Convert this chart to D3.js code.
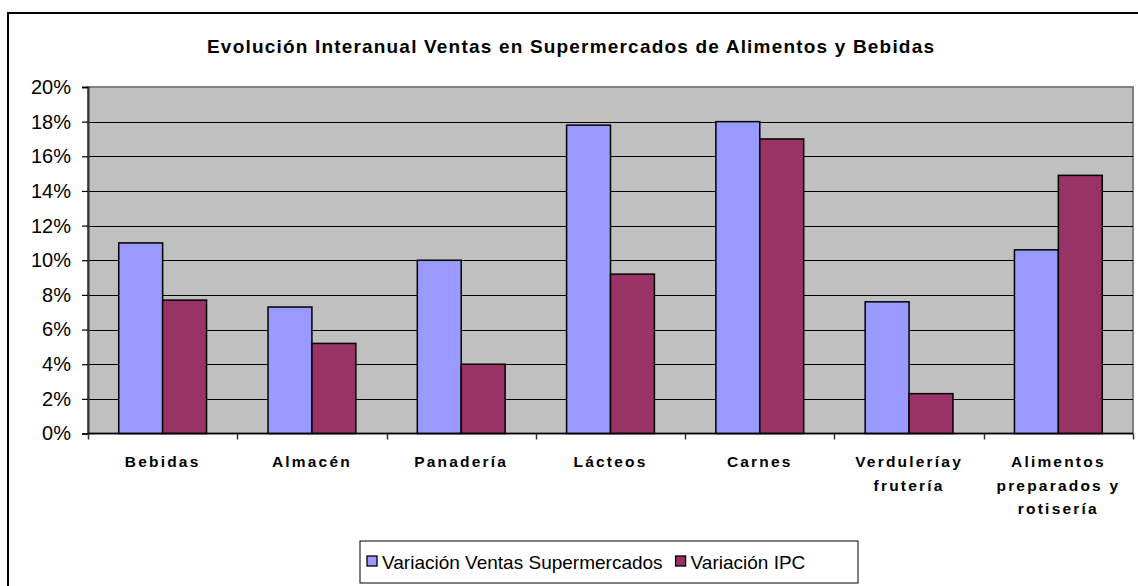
<!DOCTYPE html>
<html>
<head>
<meta charset="utf-8">
<script src="https://cdn.jsdelivr.net/npm/d3@7"></script>
<style>
  body { margin: 0; background: #fff; }
  svg text { font-family: Arial, "Liberation Sans", sans-serif; fill: #000; }
</style>
</head>
<body>
<svg id="chart" width="1138" height="586"></svg>
<script>
// data
const categories = [
    ["Bebidas"],
    ["Almacén"],
    ["Panadería"],
    ["Lácteos"],
    ["Carnes"],
    ["Verduleríay", "frutería"],
    ["Alimentos", "preparados y", "rotisería"]
];
const seriesNames = ["Variación Ventas Supermercados", "Variación IPC"];
const ventas = [0.110, 0.073, 0.100, 0.178, 0.180, 0.076, 0.106];
const ipc = [0.077, 0.052, 0.040, 0.092, 0.170, 0.023, 0.149];
const yTicks = [0, 0.02, 0.04, 0.06, 0.08, 0.10, 0.12, 0.14, 0.16, 0.18, 0.20];
const colors = ["#9999FF", "#993366"];
const title = "Evolución Interanual Ventas en Supermercados de Alimentos y Bebidas";

const svg = d3.select("#chart");

// outer chart border
svg.append("rect")
    .attr("x", 8).attr("y", 13)
    .attr("width", 1150).attr("height", 600)
    .attr("fill", "#fff")
    .attr("stroke", "#000")
    .attr("stroke-width", 2);

svg.append("text")
    .attr("x", 570.5).attr("y", 53)
    .attr("text-anchor", "middle")
    .attr("font-size", "19px")
    .attr("font-weight", "bold")
    .attr("textLength", 727)
    .attr("lengthAdjust", "spacing")
    .text(title);

let plot = { left: 88, right: 1133, top: 87, bottom: 433.5 };

let y = d3.scaleLinear().domain([0, 0.2]).range([plot.bottom, plot.top]);
let x = d3.scaleBand().domain(d3.range(categories.length)).range([plot.left, plot.right]);
let xs = d3.scaleBand().domain([0, 1]).range([0, x.bandwidth()]).paddingOuter(0.70);

// plot area background
svg.append("rect")
    .attr("x", plot.left).attr("y", plot.top)
    .attr("width", plot.right - plot.left).attr("height", plot.bottom - plot.top)
    .attr("fill", "#C0C0C0")
    .attr("stroke", "#808080")
    .attr("stroke-width", 2);

// gridlines
svg.append("g")
    .selectAll("line")
    .data(yTicks.filter(d => d > 0 && d < 0.2))
    .enter()
    .append("line")
    .attr("x1", plot.left).attr("x2", plot.right)
    .attr("y1", d => Math.round(y(d)) + 0.5).attr("y2", d => Math.round(y(d)) + 0.5)
    .attr("stroke", "#000")
    .attr("stroke-width", 1.2);

// bars
let groups = svg.append("g")
    .selectAll("g")
    .data(categories.map((c, i) => [ventas[i], ipc[i]]))
    .enter()
    .append("g")
    .attr("transform", (d, i) => "translate(" + x(i) + ",0)");

groups.selectAll("rect")
    .data(d => d)
    .enter()
    .append("rect")
    .attr("x", (d, j) => xs(j))
    .attr("width", xs.bandwidth())
    .attr("y", d => y(d))
    .attr("height", d => y(0) - y(d))
    .attr("fill", (d, j) => colors[j])
    .attr("stroke", "#000")
    .attr("stroke-width", 1.5);

// y axis
let yAxis = svg.append("g")
    .attr("transform", "translate(" + plot.left + ",0)")
    .call(d3.axisLeft(y).tickValues(yTicks).tickFormat(d3.format(".0%")).tickSize(6).tickPadding(11));
yAxis.select(".domain").attr("stroke", "#333").attr("stroke-width", 2);
yAxis.selectAll(".tick line").attr("stroke", "#000").attr("stroke-width", 1.2);
yAxis.selectAll(".tick text")
    .attr("font-size", "20px")
    .attr("font-family", "Arial, 'Liberation Sans', sans-serif")
    .attr("fill", "#000");

// x axis line + category ticks
svg.append("line")
    .attr("x1", plot.left).attr("x2", plot.right)
    .attr("y1", plot.bottom).attr("y2", plot.bottom)
    .attr("stroke", "#000").attr("stroke-width", 1.5);
svg.append("g")
    .selectAll("line")
    .data(d3.range(categories.length + 1))
    .enter()
    .append("line")
    .attr("x1", i => Math.round(plot.left + i * x.step()) + 0.5)
    .attr("x2", i => Math.round(plot.left + i * x.step()) + 0.5)
    .attr("y1", plot.bottom).attr("y2", plot.bottom + 6)
    .attr("stroke", "#333").attr("stroke-width", 1.5);

// category labels
let labels = svg.append("g")
    .selectAll("text")
    .data(categories)
    .enter()
    .append("text")
    .attr("x", (d, i) => x(i) + x.bandwidth() / 2)
    .attr("y", 467)
    .attr("text-anchor", "middle")
    .attr("font-size", "15.5px")
    .attr("font-weight", "bold")
    .attr("letter-spacing", "2.2px");
labels.selectAll("tspan")
    .data(d => d)
    .enter()
    .append("tspan")
    .attr("x", function () { return d3.select(this.parentNode).attr("x"); })
    .attr("dy", (d, i) => i === 0 ? 0 : 23.5)
    .text(d => d);

// legend
let legend = { left: 360, top: 541, width: 498, height: 42 };
svg.append("rect")
    .attr("x", legend.left).attr("y", legend.top)
    .attr("width", legend.width).attr("height", legend.height)
    .attr("fill", "#fff")
    .attr("stroke", "#000")
    .attr("stroke-width", 1);

let lx = legend.left + 7;
seriesNames.forEach(function (name, i) {
    svg.append("rect")
        .attr("x", lx).attr("y", 556)
        .attr("width", 10).attr("height", 10)
        .attr("fill", colors[i])
        .attr("stroke", "#000")
        .attr("stroke-width", 1.3);
    let t = svg.append("text")
        .attr("x", lx + 15).attr("y", 569)
        .attr("font-size", "19px")
        .text(name);
    lx += 15 + t.node().getComputedTextLength() + 13;
});
</script>
</body>
</html>
